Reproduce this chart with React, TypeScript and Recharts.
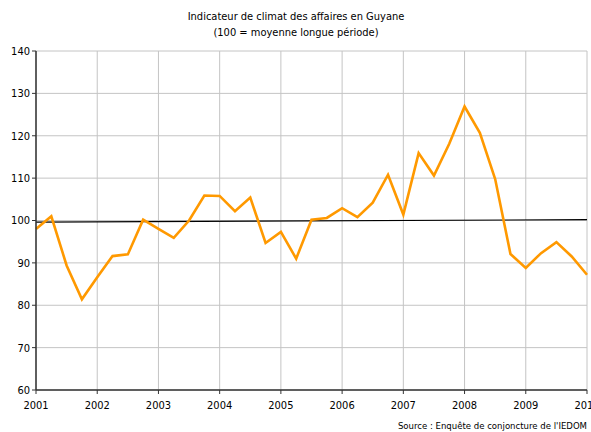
import React from 'react';
import { LineChart, Line, XAxis, YAxis, CartesianGrid } from 'recharts';

const quarters: string[] = [
  '2001T1','2001T2','2001T3','2001T4',
  '2002T1','2002T2','2002T3','2002T4',
  '2003T1','2003T2','2003T3','2003T4',
  '2004T1','2004T2','2004T3','2004T4',
  '2005T1','2005T2','2005T3','2005T4',
  '2006T1','2006T2','2006T3','2006T4',
  '2007T1','2007T2','2007T3','2007T4',
  '2008T1','2008T2','2008T3','2008T4',
  '2009T1','2009T2','2009T3','2009T4',
  '2010T1',
];

const indicateur: number[] = [
  98.0, 101.0, 89.4, 81.4,
  86.6, 91.6, 92.0, 100.2,
  98.0, 95.9, 100.0, 105.9,
  105.8, 102.2, 105.4, 94.7,
  97.3, 91.0, 100.2, 100.6,
  102.9, 100.8, 104.2, 110.8,
  101.4, 115.9, 110.6, 118.1,
  126.9, 120.7, 109.8, 92.1,
  88.8, 92.3, 94.9, 91.5,
  87.2,
];

const tendanceDebut = 99.6;
const tendanceFin = 100.2;

const yearTicks: number[] = [2001, 2002, 2003, 2004, 2005, 2006, 2007, 2008, 2009, 2010];
const valueTicks: number[] = [60, 70, 80, 90, 100, 110, 120, 130, 140];

const data = quarters.map((q, i) => ({
  t: parseInt(q.slice(0, 4), 10) + (parseInt(q.slice(5), 10) - 1) * 0.25,
  v: indicateur[i],
  trend: i === 0 ? tendanceDebut : i === quarters.length - 1 ? tendanceFin : null,
}));

const FONT = "Tahoma, 'DejaVu Sans Condensed', 'Liberation Sans', sans-serif";

export default function App() {
  return (
    <div style={{ position: 'absolute', left: 0, top: 0, width: 591, height: 432, background: '#fff', fontFamily: FONT }}>
      <LineChart width={591} height={432} data={data} margin={{ top: 51, right: 4, bottom: 0, left: 0 }}>
        <text x={296} y={20} textAnchor="middle" fontSize={11} fontFamily={FONT} fill="#000">Indicateur de climat des affaires en Guyane</text>
        <text x={296} y={36} textAnchor="middle" fontSize={11} fontFamily={FONT} fill="#000">(100 = moyenne longue période)</text>
        <text x={587} y={429} textAnchor="end" fontSize={9.5} fontFamily={FONT} fill="#000">Source : Enquête de conjoncture de l'IEDOM</text>
        <CartesianGrid stroke="#c4c4c4" strokeWidth={1} />
        <XAxis
          dataKey="t"
          type="number"
          domain={[2001, 2010]}
          ticks={yearTicks}
          interval={0}
          height={42}
          tickSize={4}
          tickMargin={7}
          tick={{ fontSize: 11, fill: '#000', fontFamily: FONT }}
          stroke="#333"
          axisLine={{ stroke: '#333', strokeWidth: 1.5 }}
          tickLine={{ stroke: '#333' }}
        />
        <YAxis
          type="number"
          domain={[60, 140]}
          ticks={valueTicks}
          interval={0}
          width={36}
          tickSize={4}
          tick={{ fontSize: 11, fill: '#000', fontFamily: FONT }}
          axisLine={{ stroke: '#333', strokeWidth: 1.5 }}
          tickLine={{ stroke: '#333' }}
        />
        <Line dataKey="trend" stroke="#000" strokeWidth={1.2} dot={false} connectNulls isAnimationActive={false} />
        <Line dataKey="v" stroke="#FF9900" strokeWidth={2.6} dot={false} strokeLinejoin="miter" isAnimationActive={false} />
      </LineChart>
    </div>
  );
}
